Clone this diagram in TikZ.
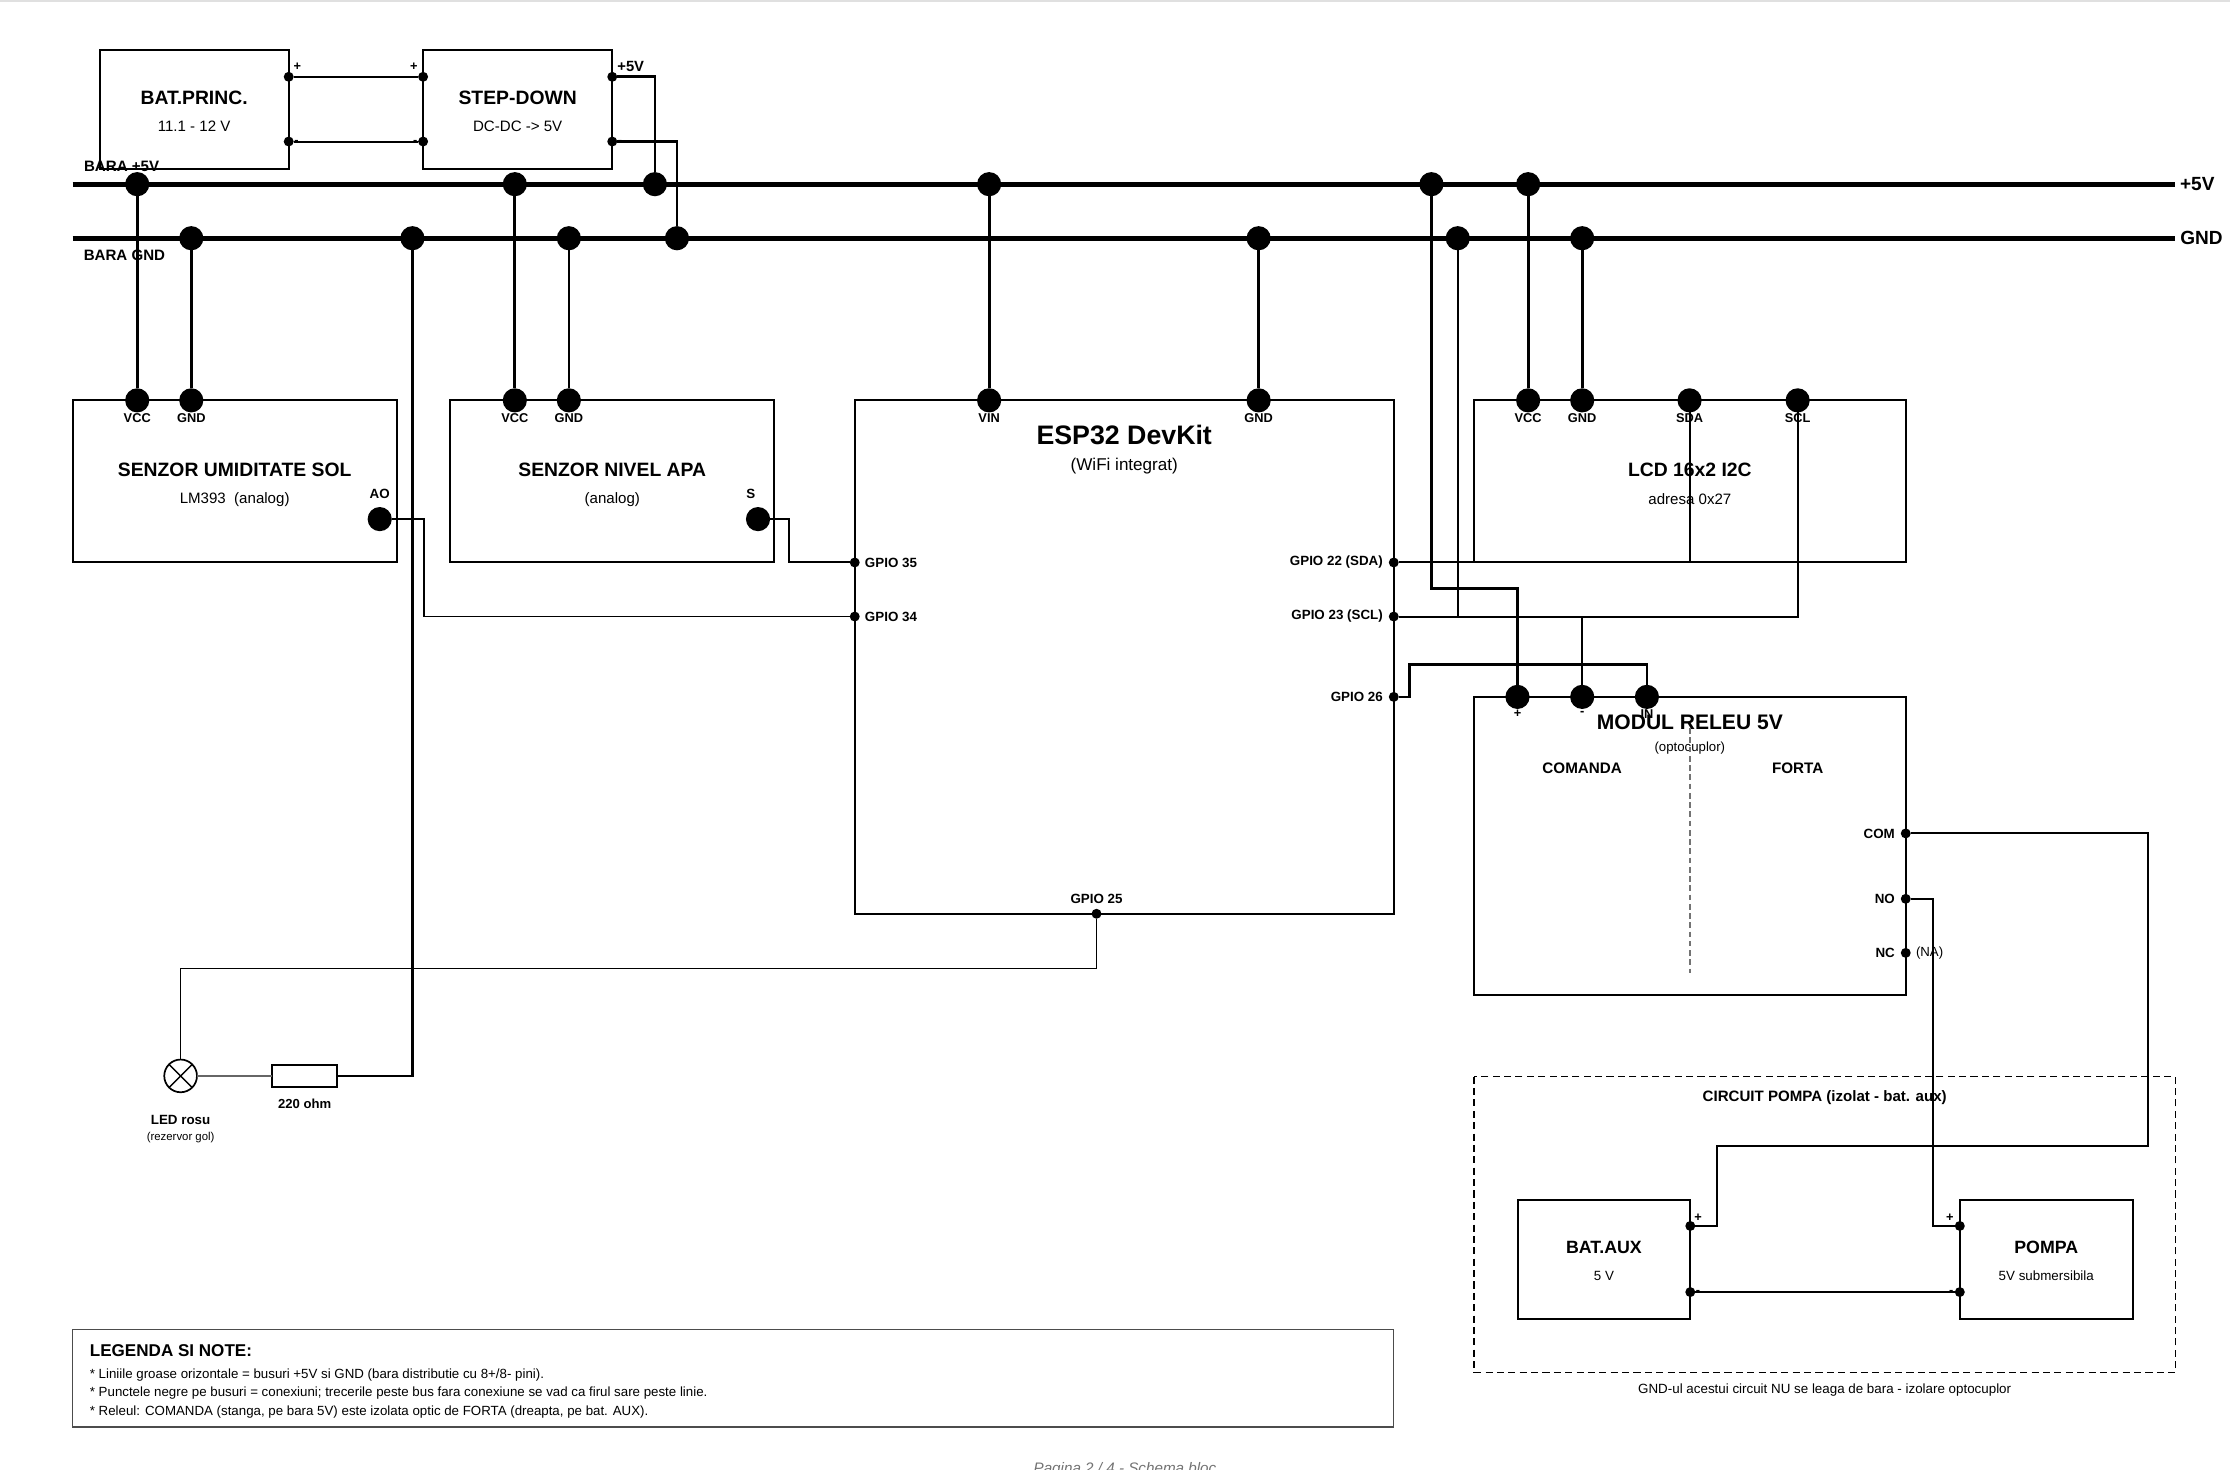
\documentclass[tikz,border=0pt]{standalone}
\usepackage{fontspec}
\setmainfont{Liberation Sans}
\usetikzlibrary{positioning}
\tikzset{
  blockbox/.style={draw, line width=1.4pt, inner sep=0pt, outer sep=0pt},
  title/.style={font=\bfseries\fontsize{13.6}{15}\selectfont, inner sep=0pt},
  subtitle/.style={font=\fontsize{10.6}{12}\selectfont, inner sep=0pt},
  pinlabel/.style={font=\bfseries\fontsize{9}{10}\selectfont, inner sep=0pt},
  gpiolabel/.style={font=\bfseries\fontsize{9.4}{10}\selectfont, inner sep=0pt},
  notes/.style={font=\fontsize{9.35}{11}\selectfont, inner sep=0pt, anchor=west},
  buspin/.style={circle, fill=black, minimum size=17pt, inner sep=0pt, outer sep=0pt},
  smallpin/.style={circle, fill=black, minimum size=7pt, inner sep=0pt, outer sep=0pt},
  bus/.style={line width=3.6pt},
  drop/.style={line width=1.9pt},
  wire/.style={line width=1.4pt},
  thinwire/.style={line width=1.05pt},
}
\begin{document}
\begin{tikzpicture}[x=1pt,y=-1pt]
  \path[use as bounding box, clip] (0,0) rectangle (1568,1033.6);
  \fill[black!12] (0,0) rectangle (1568,1.5);

  \node[blockbox, minimum width=133pt, minimum height=84pt] (BatP) at (136.5,77) {};
  \node[title] (BatPT) at (136.5,68.5) {BAT.PRINC.};
  \node[subtitle] (BatPS) at (136.5,88.5) {11.1 - 12 V};
  \node[blockbox, minimum width=133pt, minimum height=84pt] (Step) at (364,77) {};
  \node[title] (StepT) at (364,68.5) {STEP-DOWN};
  \node[subtitle] (StepS) at (364,88.5) {DC-DC -> 5V};
  \node[smallpin] (BatPp) at (203,54) {};
  \node[smallpin] (BatPm) at (203,99.5) {};
  \node[smallpin] (StepIp) at (297.5,54) {};
  \node[smallpin] (StepIm) at (297.5,99.5) {};
  \node[smallpin] (StepOp) at (430.5,54) {};
  \node[smallpin] (StepOm) at (430.5,99.5) {};
  \node[pinlabel] (LBatPp) at (209,47) {+};
  \node[pinlabel] (LBatPm) at (208.5,100) {-};
  \node[pinlabel] (LStepIp) at (291,47) {+};
  \node[pinlabel] (LStepIm) at (292,100) {-};
  \node[pinlabel, font=\bfseries\fontsize{10.4}{12}\selectfont] (LStepOp) at (443.5,46.5) {+5V};
  \node[pinlabel] (LStepOm) at (436,100) {-};

  \node[blockbox, minimum width=228pt, minimum height=114pt] (Umid) at (165,338.5) {};
  \node[title] (UmidT) at (165,330.5) {SENZOR UMIDITATE SOL};
  \node[subtitle] (UmidS) at (165,351) {LM393\ \ (analog)};
  \node[blockbox, minimum width=228pt, minimum height=114pt] (Nivel) at (430.5,338.5) {};
  \node[title] (NivelT) at (430.5,330.5) {SENZOR NIVEL APA};
  \node[subtitle] (NivelS) at (430.5,351) {(analog)};
  \node[blockbox, minimum width=379pt, minimum height=361pt] (Esp) at (790.5,462) {};
  \node[title, font=\bfseries\fontsize{18.8}{20}\selectfont] (EspT) at (790.5,306) {ESP32 DevKit};
  \node[subtitle, font=\fontsize{12}{14}\selectfont] (EspS) at (790.5,327.5) {(WiFi integrat)};
  \node[blockbox, minimum width=303.5pt, minimum height=114pt] (Lcd) at (1188.2,338.5) {};
  \node[title] (LcdT) at (1188.2,330.5) {LCD 16x2 I2C};
  \node[subtitle] (LcdS) at (1188.2,351) {adresa 0x27};
  \node[blockbox, minimum width=303.5pt, minimum height=209.5pt] (Rel) at (1188.2,594.8) {};
  \node[title, font=\bfseries\fontsize{14.8}{17}\selectfont] (RelT) at (1188.2,508) {MODUL RELEU 5V};
  \node[subtitle, font=\fontsize{9.3}{11}\selectfont] (RelS) at (1188.2,526) {(optocuplor)};
  \node[pinlabel, font=\bfseries\fontsize{10.7}{13}\selectfont] (RelCmd) at (1112.5,540) {COMANDA};
  \node[pinlabel, font=\bfseries\fontsize{10.7}{13}\selectfont] (RelFor) at (1264,540) {FORTA};
  \coordinate (RelDa) at (1188.2,512);
  \coordinate (RelDb) at (1188.2,684);
  \draw[black!55, line width=0.9pt, dash pattern=on 4pt off 2.5pt] (RelDa) -- (RelDb);

  \coordinate (Bus5a) at (51,129.5);
  \coordinate (Bus5b) at (1529,129.5);
  \coordinate (BusGa) at (51,167.5);
  \coordinate (BusGb) at (1529,167.5);
  \draw[bus] (Bus5a) -- (Bus5b);
  \draw[bus] (BusGa) -- (BusGb);
  \node[pinlabel, font=\bfseries\fontsize{13.4}{15}\selectfont] (L5V) at (1545,129.5) {+5V};
  \node[pinlabel, font=\bfseries\fontsize{13.4}{15}\selectfont] (LGND) at (1548,167.5) {GND};
  \node[pinlabel, font=\bfseries\fontsize{10.6}{12}\selectfont] (LBar5) at (85.5,117) {BARA +5V};
  \node[pinlabel, font=\bfseries\fontsize{10.6}{12}\selectfont] (LBarG) at (87.5,179.5) {BARA GND};

  \foreach \name/\px in {A/96.5, B/362, C/460.5, D/695.5, E/1006.5, F/1074.5}
    \node[buspin] (P\name) at (\px,129.5) {};
  \foreach \name/\px in {A/134.5, B/290, C/400, D/476, E/885, F/1025, G/1112.5}
    \node[buspin] (N\name) at (\px,167.5) {};

  \foreach \name/\px/\txt in {UmidV/96.5/VCC, UmidG/134.5/GND, NivelV/362/VCC, NivelG/400/GND,
      EspV/695.5/VIN, EspG/885/GND, LcdV/1074.5/VCC, LcdG/1112.5/GND, LcdA/1188/SDA, LcdC/1264/SCL} {
    \node[buspin] (\name) at (\px,281.5) {};
    \node[pinlabel] (L\name) at (\px,294) {\txt};
  }
  \foreach \name/\px/\txt in {RelP/1067/+, RelM/1112.5/-, RelI/1158/IN} {
    \node[buspin] (\name) at (\px,490) {};
    \node[pinlabel] (L\name) at (\px,502) {\txt};
  }
  \node[buspin] (AO) at (267,365) {};
  \node[gpiolabel] (LAO) at (267,347) {AO};
  \node[buspin] (Sig) at (533,365) {};
  \node[gpiolabel] (LSig) at (528,347) {S};

  \foreach \name/\py/\txt in {G35/395.5/GPIO 35, G34/433.5/GPIO 34} {
    \node[smallpin] (\name) at (601,\py) {};
    \node[gpiolabel, anchor=west] (L\name) at (608,\py) {\txt};
  }
  \foreach \name/\py/\txt in {G22/395.5/GPIO 22 (SDA), G23/433.5/GPIO 23 (SCL), G26/490/GPIO 26} {
    \node[smallpin] (\name) at (980,\py) {};
    \node[gpiolabel, anchor=east] (L\name) at (972.5,\py) {\txt};
  }
  \node[smallpin] (G25) at (771,642.5) {};
  \node[gpiolabel] (LG25) at (771,632) {GPIO 25};
  \foreach \name/\py/\txt in {Com/586/COM, No/632/NO, Nc/670/NC} {
    \node[smallpin] (\name) at (1340,\py) {};
    \node[gpiolabel, anchor=east] (L\name) at (1332.5,\py) {\txt};
  }
  \node[subtitle, font=\fontsize{9.3}{11}\selectfont, anchor=west] (LNa) at (1347,670) {(NA)};

  \node[circle, draw, line width=1.2pt, minimum size=23pt, inner sep=0pt, outer sep=0pt] (Led) at (127,756.5) {};
  \draw[line width=1pt] (Led.45) -- (Led.225);
  \draw[line width=1pt] (Led.135) -- (Led.315);
  \node[blockbox, minimum width=45.5pt, minimum height=16pt] (Rez) at (214.2,756.5) {};
  \node[pinlabel, font=\bfseries\fontsize{9.2}{11}\selectfont] (LRez) at (214.2,776) {220 ohm};
  \node[pinlabel, font=\bfseries\fontsize{9.4}{11}\selectfont] (LLed) at (127,787.5) {LED rosu};
  \node[subtitle, font=\fontsize{8}{9}\selectfont] (SLed) at (127,799.5) {(rezervor gol)};

  \draw[line width=1pt, dash pattern=on 5pt off 3pt] (1036.5,757) rectangle (1529.5,965);
  \node[pinlabel, font=\bfseries\fontsize{10.6}{12}\selectfont] (PompaT) at (1283,771.5) {CIRCUIT POMPA (izolat - bat. aux)};
  \node[subtitle, font=\fontsize{9.4}{11}\selectfont] (PompaN) at (1283,977.5) {GND-ul acestui circuit NU se leaga de bara - izolare optocuplor};
  \node[blockbox, minimum width=121.5pt, minimum height=83.5pt] (BatA) at (1127.8,885.8) {};
  \node[title, font=\bfseries\fontsize{12.5}{14}\selectfont] (BatAT) at (1127.8,877) {BAT.AUX};
  \node[subtitle, font=\fontsize{9.4}{11}\selectfont] (BatAS) at (1127.8,897) {5 V};
  \node[blockbox, minimum width=121.5pt, minimum height=83.5pt] (Pompa) at (1438.8,885.8) {};
  \node[title, font=\bfseries\fontsize{12.5}{14}\selectfont] (PompaB) at (1438.8,877) {POMPA};
  \node[subtitle, font=\fontsize{9.4}{11}\selectfont] (PompaS) at (1438.8,897) {5V submersibila};
  \node[smallpin] (BatAp) at (1188.5,862) {};
  \node[smallpin] (BatAm) at (1188.5,908.5) {};
  \node[smallpin] (PompaP) at (1378,862) {};
  \node[smallpin] (PompaM) at (1378,908.5) {};
  \node[pinlabel] (LBatAp) at (1194,856) {+};
  \node[pinlabel] (LBatAm) at (1194,909) {-};
  \node[pinlabel] (LPompaP) at (1371,856) {+};
  \node[pinlabel] (LPompaM) at (1372,909) {-};

  \node[draw=black!70, line width=1pt, minimum width=929pt, minimum height=68.5pt, inner sep=0pt] (Leg) at (515.5,969.2) {};
  \node[title, font=\bfseries\fontsize{12}{14}\selectfont, anchor=west] (LegT) at (63,950) {LEGENDA SI NOTE:};
  \node[notes] (Leg1) at (63,966.5) {* Liniile groase orizontale = busuri +5V si GND (bara distributie cu 8+/8- pini).};
  \node[notes] (Leg2) at (63,979.5) {* Punctele negre pe busuri = conexiuni; trecerile peste bus fara conexiune se vad ca firul sare peste linie.};
  \node[notes] (Leg3) at (63,993) {* Releul: COMANDA (stanga, pe bara 5V) este izolata optic de FORTA (dreapta, pe bat. AUX).};
  \node[subtitle, font=\itshape\fontsize{10.7}{12}\selectfont, text=black!55] (Foot) at (791,1033) {Pagina 2 / 4 - Schema bloc};

  \draw[wire] (BatPp) -- (StepIp);
  \draw[wire] (BatPm) -- (StepIm);
  \draw[drop] (StepOp) -| (PC);
  \draw[drop] (StepOm) -| (ND);
  \draw[drop] (PA) -- (UmidV);
  \draw[drop] (NA) -- (UmidG);
  \draw[drop] (PB) -- (NivelV);
  \draw[drop] (NC) -- (NivelG);
  \draw[drop] (PD) -- (EspV);
  \draw[drop] (NE) -- (EspG);
  \draw[drop] (PF) -- (LcdV);
  \draw[drop] (NG) -- (LcdG);
  \draw[drop] (NB) |- (Rez.east);
  \draw[thinwire] (AO) -- ++(31,0) |- (G34);
  \draw[wire] (Sig) -- ++(22,0) |- (G35);
  \draw[thinwire] (G25) -- ++(0,38.5) -| (Led.north);
  \draw[thinwire, black!60] (Led.east) -- (Rez.west);
  \draw[wire] (G22) -| (LcdA);
  \draw[wire] (G23) -| (LcdC);
  \draw[drop] (PE) -- ++(0,284.5) -| (RelP);
  \draw[wire] (NF) -- ++(0,266) -| (RelM);
  \draw[drop] (G26) -- ++(11,0) -- ++(0,-23) -| (RelI);
  \draw[wire] (Com) -- ++(170,0) -- ++(0,219.5) -- ++(-303,0) |- (BatAp);
  \draw[wire] (No) -- ++(19,0) |- (PompaP);
  \draw[drop] (BatAm) -- (PompaM);
\end{tikzpicture}
\end{document}
